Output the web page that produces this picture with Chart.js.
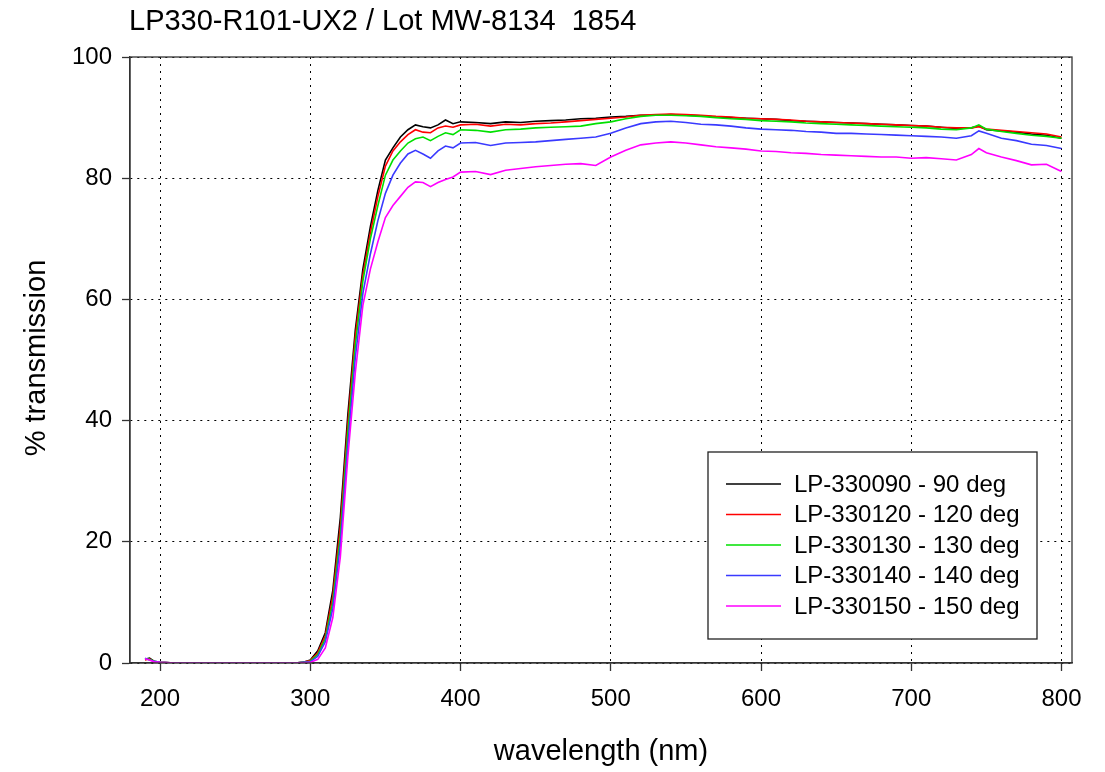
<!DOCTYPE html>
<html>
<head>
<meta charset="utf-8">
<script src="https://cdn.jsdelivr.net/npm/chart.js@4.4.1/dist/chart.umd.min.js"></script>
<style>
  html, body { margin: 0; padding: 0; background: #fff; }
  #wrap { width: 1105px; height: 772px; }
</style>
</head>
<body>
<div id="wrap"><canvas id="c" width="1105" height="772"></canvas></div>
<script>
const titleText = "LP330-R101-UX2 / Lot MW-8134  1854";
const xTitle = "wavelength (nm)";
const yTitle = "% transmission";
const xTickValues = [200, 300, 400, 500, 600, 700, 800];
const yTickValues = [0, 20, 40, 60, 80, 100];

const wavelengths = [190,193,196,200,210,220,230,240,250,260,270,280,290,295,
  300,305,310,315,320,325,330,335,340,345,350,355,360,365,370,375,380,385,390,395,400,
  410,420,430,440,450,460,470,480,490,500,510,520,530,540,550,560,570,580,590,600,
  610,620,630,640,650,660,670,680,690,700,710,720,730,740,745,750,760,770,780,790,800];

const seriesLabels = ["LP-330090 - 90 deg", "LP-330120 - 120 deg", "LP-330130 - 130 deg", "LP-330140 - 140 deg", "LP-330150 - 150 deg"];
const seriesColors = ["#000000", "#ff0000", "#00e000", "#3a3aff", "#ff00ff"];

const t090 = [0.6,0.8,0.3,0.1,0,0,0,0,0,0,0,0,0,0.1,
  0.5,2,5,12,24,41,55,65,72,78,83,85,86.8,88,88.8,88.5,88.3,88.8,89.6,89,89.3,
  89.2,89.0,89.3,89.2,89.4,89.5,89.6,89.8,89.9,90.1,90.2,90.4,90.4,90.5,90.4,90.3,90.1,90.0,89.9,89.8,
  89.7,89.5,89.4,89.3,89.2,89.1,89.0,88.9,88.8,88.7,88.6,88.4,88.2,88.3,88.6,88.0,87.8,87.6,87.3,87.1,86.6];
const t120 = [0.5,0.7,0.2,0.1,0,0,0,0,0,0,0,0,0,0.1,
  0.4,1.7,4.5,11,22.5,39.5,54,64,71,77,82,84.5,86,87.2,88,87.6,87.5,88.3,88.6,88.4,88.8,
  88.9,88.6,88.9,88.8,89.0,89.1,89.3,89.5,89.7,89.9,90.1,90.4,90.5,90.6,90.5,90.4,90.2,90.1,89.9,89.8,
  89.7,89.6,89.4,89.3,89.2,89.1,89.0,88.9,88.8,88.7,88.6,88.4,88.3,88.3,88.5,88.1,87.9,87.7,87.5,87.3,86.8];
const t130 = [0.7,0.6,0.3,0.1,0,0,0,0,0,0,0,0,0,0.1,
  0.3,1.4,4,10,21,38,52.5,63,70,75.5,80.5,83,84.5,85.8,86.5,86.8,86.2,86.9,87.5,87.2,88,
  87.9,87.6,88.0,88.1,88.3,88.4,88.5,88.6,89.0,89.3,89.8,90.2,90.4,90.4,90.3,90.2,90.0,89.8,89.7,89.5,
  89.4,89.3,89.1,89.0,88.9,88.8,88.7,88.6,88.5,88.4,88.3,88.1,88.0,88.3,88.8,88.1,87.7,87.4,87.1,86.9,86.6];
const t140 = [0.8,0.5,0.3,0.1,0,0,0,0,0,0,0,0,0,0.1,
  0.2,1.1,3.5,9,19.5,36,50.5,61,67.5,73,77.5,80.5,82.5,84,84.6,84,83.3,84.5,85.3,85,85.8,
  85.9,85.4,85.8,85.9,86.0,86.2,86.4,86.6,86.8,87.4,88.3,89.0,89.3,89.4,89.2,88.9,88.8,88.6,88.3,88.1,
  88.0,87.9,87.7,87.6,87.4,87.4,87.3,87.2,87.1,87.0,86.9,86.8,86.6,87.0,87.8,87.4,86.6,86.2,85.6,85.4,84.9];
const t150 = [0.7,0.5,0.2,0.1,0,0,0,0,0,0,0,0,0,0.05,
  0.1,0.6,2.5,7.5,17.5,34,48,59,65,69.5,73.5,75.5,77,78.5,79.4,79.3,78.6,79.3,79.8,80.2,81,
  81.1,80.6,81.3,81.6,81.9,82.1,82.3,82.4,82.1,83.5,84.6,85.5,85.8,86.0,85.8,85.5,85.2,85.0,84.8,84.5,
  84.4,84.2,84.1,83.9,83.8,83.7,83.6,83.5,83.5,83.3,83.4,83.2,83.0,83.9,84.9,84.2,83.5,82.9,82.2,82.3,81.1];

const seriesValues = [t090, t120, t130, t140, t150];

const FONT = '"Liberation Sans", Arial, Helvetica, sans-serif';

const datasets = seriesValues.map((vals, i) => ({
  label: seriesLabels[i],
  data: wavelengths.map((w, j) => ({ x: w, y: vals[j] })),
  borderColor: seriesColors[i],
  backgroundColor: seriesColors[i],
  borderWidth: 1.6,
  pointRadius: 0,
  tension: 0,
  fill: false,
  order: seriesValues.length - i
}));

const decor = {
  id: 'decor',
  afterDraw(chart) {
    const { ctx, chartArea: a } = chart;
    ctx.save();
    ctx.strokeStyle = '#333';
    ctx.lineWidth = 1.3;
    ctx.setLineDash([]);
    ctx.strokeRect(a.left, a.top, a.right - a.left, a.bottom - a.top);
    ctx.fillStyle = '#000';
    ctx.textBaseline = 'middle';
    ctx.font = '29px ' + FONT;
    ctx.textAlign = 'left';
    ctx.fillText(titleText, 129, 22);
    ctx.textAlign = 'center';
    ctx.fillText(xTitle, (a.left + a.right) / 2, 752);
    ctx.save();
    ctx.translate(37, (a.top + a.bottom) / 2 - 2);
    ctx.rotate(-Math.PI / 2);
    ctx.fillText(yTitle, 0, 0);
    ctx.restore();
    const bx = 708, by = 452, bw = 329, bh = 187;
    ctx.fillStyle = '#fff';
    ctx.fillRect(bx, by, bw, bh);
    ctx.strokeStyle = '#222';
    ctx.lineWidth = 1.3;
    ctx.strokeRect(bx, by, bw, bh);
    ctx.font = '24px ' + FONT;
    ctx.textAlign = 'left';
    ctx.textBaseline = 'middle';
    chart.data.datasets.forEach((ds, i) => {
      const yy = 484 + i * 30.5;
      ctx.strokeStyle = ds.borderColor;
      ctx.lineWidth = 1.6;
      ctx.beginPath();
      ctx.moveTo(726, yy);
      ctx.lineTo(781, yy);
      ctx.stroke();
      ctx.fillStyle = '#000';
      ctx.fillText(ds.label, 794, yy + 1);
    });
    ctx.restore();
  }
};

new Chart(document.getElementById('c'), {
  type: 'line',
  data: { datasets },
  plugins: [decor],
  options: {
    responsive: false,
    animation: false,
    devicePixelRatio: 1,
    layout: { padding: { top: 57, right: 33, left: 0, bottom: 0 } },
    plugins: { legend: { display: false }, title: { display: false }, tooltip: { enabled: false } },
    scales: {
      x: {
        type: 'linear',
        min: 180,
        max: 807,
        afterBuildTicks: (s) => { s.ticks = xTickValues.map(v => ({ value: v })); },
        afterFit: (s) => { s.height = 109; },
        ticks: { font: { family: FONT, size: 24 }, color: '#000', padding: 14, maxRotation: 0, autoSkip: false },
        grid: { color: '#000', lineWidth: 1, tickLength: 8, tickColor: '#333', tickWidth: 1.3, tickBorderDash: [] },
        border: { color: '#333', width: 1.3, dash: [2, 5] }
      },
      y: {
        type: 'linear',
        min: 0,
        max: 100,
        afterBuildTicks: (s) => { s.ticks = yTickValues.map(v => ({ value: v })); },
        afterFit: (s) => { s.width = 130; },
        ticks: { font: { family: FONT, size: 24 }, color: '#000', padding: 10, autoSkip: false },
        grid: { color: '#000', lineWidth: 1, tickLength: 8, tickColor: '#333', tickWidth: 1.3, tickBorderDash: [] },
        border: { color: '#333', width: 1.3, dash: [2, 5] }
      }
    }
  }
});
</script>
</body>
</html>
